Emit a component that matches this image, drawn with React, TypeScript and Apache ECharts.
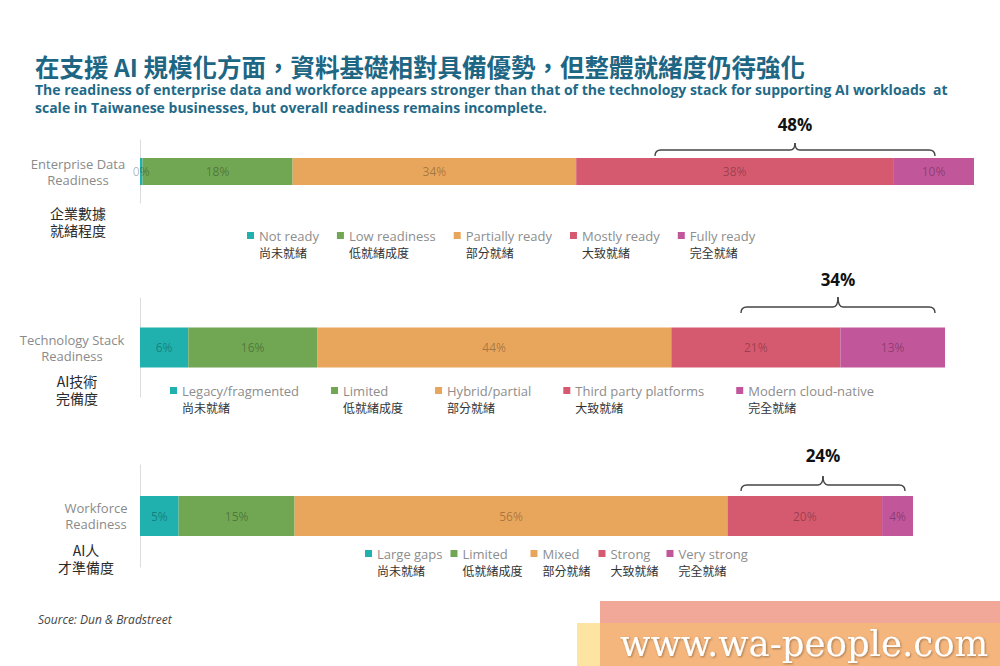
import React, { useEffect, useRef } from "react";
import * as echarts from "echarts";

const titleText = "在支援 AI 規模化方面，資料基礎相對具備優勢，但整體就緒度仍待強化";
const subtitleLines = [
  "The readiness of enterprise data and workforce appears stronger than that of the technology stack for supporting AI workloads  at",
  "scale in Taiwanese businesses, but overall readiness remains incomplete.",
];
const sourceText = "Source: Dun & Bradstreet";
const watermarkText = "www.wa-people.com";

const rowLabels = ["Enterprise Data\nReadiness", "Technology Stack\nReadiness", "Workforce\nReadiness"];
const rowLabelsZh = ["企業數據\n就緒程度", "AI技術\n完備度", "AI人\n才準備度"];

const enterpriseCats = ["Not ready", "Low readiness", "Partially ready", "Mostly ready", "Fully ready"];
const techCats = ["Legacy/fragmented", "Limited", "Hybrid/partial", "Third party platforms", "Modern cloud-native"];
const workforceCats = ["Large gaps", "Limited", "Mixed", "Strong", "Very strong"];
const levelsZh = ["尚未就緒", "低就緒成度", "部分就緒", "大致就緒", "完全就緒"];

const enterpriseValues = [0.3, 18, 34, 38, 10];
const techValues = [6, 16, 44, 21, 13];
const workforceValues = [5, 15, 56, 20, 4];

const colors = ["#20b0ad", "#71a653", "#e8a65c", "#d65a6f", "#c2569b"];

const FONT = "'Open Sans', Lato, sans-serif";
const CJK = "'Noto Sans CJK TC', 'Noto Sans CJK SC', sans-serif";

function buildOption() {
  const cats = [enterpriseCats, techCats, workforceCats];
  const vals = [enterpriseValues, techValues, workforceValues];
  const zhMap: Record<string, string> = {};
  cats.forEach((c) => c.forEach((n, i) => (zhMap[n] = levelsZh[i])));

  const grids = [
    { left: 140, right: 26, top: 140, height: 63 },
    { left: 140, right: 55, top: 298, height: 99 },
    { left: 140, right: 87, top: 465, height: 102 },
  ];
  const barWidths = [27, 40, 40];
  const labelMargins = [62, 68, 44];

  const series: any[] = [];
  cats.forEach((c, g) => {
    c.forEach((name, i) => {
      series.push({
        type: "bar",
        name,
        xAxisIndex: g,
        yAxisIndex: g,
        stack: "row" + g,
        barWidth: barWidths[g],
        data: [vals[g][i]],
        itemStyle: { color: colors[i] },
        label: {
          show: true,
          position: "inside",
          formatter: (p: any) => Math.round(p.value) + "%",
          fontSize: 12,
          color: "rgba(0,0,0,0.3)",
          fontFamily: FONT,
        },
        emphasis: { disabled: true },
      });
    });
  });

  const legendCommon = {
    orient: "horizontal",
    icon: "rect",
    itemWidth: 7,
    itemHeight: 7,
    padding: 0,
    selectedMode: false,
    formatter: (name: string) => `{en|${name}}\n{zh|${zhMap[name]}}`,
    textStyle: {
      padding: [17, 0, 0, 0],
      rich: {
        en: { fontSize: 13, color: "#8d8d8d", lineHeight: 17, fontFamily: FONT },
        zh: { fontSize: 12, color: "#333", lineHeight: 17, fontFamily: CJK },
      },
    },
  };

  const legendPos = [
    { left: 247, top: 229, itemGap: 18 },
    { left: 170, top: 384, itemGap: 32 },
    { left: 365, top: 547, itemGap: 8 },
  ];

  const zhLabelPos = [
    { x: 78, y: 221 },
    { x: 77, y: 389 },
    { x: 86, y: 558 },
  ];

  const braces = [
    { x1: 655, x2: 935, y: 150, tip: 7, ty: 124 },
    { x1: 741, x2: 935, y: 307, tip: 10, ty: 279 },
    { x1: 741, x2: 905, y: 485, tip: 9, ty: 455 },
  ];

  const graphics: any[] = [];
  zhLabelPos.forEach((p, g) => {
    graphics.push({
      type: "text",
      x: p.x,
      y: p.y,
      style: {
        text: rowLabelsZh[g],
        fill: "#2a2a2a",
        fontSize: 14,
        lineHeight: 17,
        fontFamily: CJK,
        align: "center",
        verticalAlign: "middle",
        textAlign: "center",
        textVerticalAlign: "middle",
      },
    });
  });

  const lineStyle = { stroke: "#444", lineWidth: 1.4, fill: null };
  braces.forEach((b, g) => {
    const mid = (b.x1 + b.x2) / 2;
    const y = b.y;
    const r = 6;
    const d = 6;
    const children: any[] = [
      { type: "bezierCurve", shape: { x1: b.x1, y1: y + d, x2: b.x1 + r, y2: y, cpx1: b.x1, cpy1: y }, style: lineStyle },
      { type: "line", shape: { x1: b.x1 + r, y1: y, x2: mid - 5, y2: y }, style: lineStyle },
      { type: "bezierCurve", shape: { x1: mid - 5, y1: y, x2: mid, y2: y - b.tip, cpx1: mid, cpy1: y }, style: lineStyle },
      { type: "bezierCurve", shape: { x1: mid, y1: y - b.tip, x2: mid + 5, y2: y, cpx1: mid, cpy1: y }, style: lineStyle },
      { type: "line", shape: { x1: mid + 5, y1: y, x2: b.x2 - r, y2: y }, style: lineStyle },
      { type: "bezierCurve", shape: { x1: b.x2 - r, y1: y, x2: b.x2, y2: y + d, cpx1: b.x2, cpy1: y }, style: lineStyle },
    ];
    graphics.push({ type: "group", children });
    const total = vals[g][3] + vals[g][4];
    graphics.push({
      type: "text",
      x: mid,
      y: b.ty,
      style: {
        text: Math.round(total) + "%",
        fill: "#111",
        fontSize: 17,
        fontWeight: "bold",
        fontFamily: FONT,
        align: "center",
        verticalAlign: "middle",
        textAlign: "center",
        textVerticalAlign: "middle",
      },
    });
  });

  // watermark
  graphics.push(
    { type: "rect", shape: { x: 600, y: 601, width: 400, height: 22 }, style: { fill: "#f2a898" } },
    { type: "rect", shape: { x: 577, y: 623, width: 23, height: 43 }, style: { fill: "#fde4a2" } },
    { type: "rect", shape: { x: 600, y: 623, width: 400, height: 43 }, style: { fill: "#f4b67d" } },
    {
      type: "text",
      x: 620,
      y: 643,
      style: {
        text: watermarkText,
        fill: "#ffffff",
        fontSize: 35.5,
        fontFamily: "'DejaVu Serif', serif",
        align: "left",
        verticalAlign: "middle",
        textAlign: "left",
        textVerticalAlign: "middle",
        textShadowColor: "rgba(0,0,0,0.35)",
        textShadowBlur: 2,
        textShadowOffsetX: 1,
        textShadowOffsetY: 1,
      },
    }
  );

  return {
    animation: false,
    backgroundColor: "#ffffff",
    title: [
      {
        text: titleText,
        left: 35,
        top: 55,
        padding: 0,
        textStyle: { fontSize: 24.5, fontWeight: "bold", color: "#1d6684", fontFamily: CJK, lineHeight: 22 },
      },
      {
        text: subtitleLines.join("\n"),
        left: 35,
        top: 80,
        padding: 0,
        textStyle: { fontSize: 14, fontWeight: "bold", color: "#1f6a88", fontFamily: FONT, lineHeight: 18 },
      },
      {
        text: sourceText,
        left: 38,
        top: 613,
        padding: 0,
        textStyle: { fontSize: 12, fontStyle: "italic", fontWeight: "normal", color: "#444", fontFamily: FONT },
      },
    ],
    grid: grids,
    xAxis: grids.map((_, g) => ({
      type: "value",
      gridIndex: g,
      min: 0,
      max: 100,
      show: false,
    })),
    yAxis: grids.map((_, g) => ({
      type: "category",
      gridIndex: g,
      data: [rowLabels[g]],
      axisLine: { show: true, lineStyle: { color: "#dcdcdc", width: 1 } },
      axisTick: { show: false },
      splitLine: { show: false },
      axisLabel: {
        align: "center",
        margin: labelMargins[g],
        color: "#8a8a8a",
        fontSize: 13,
        lineHeight: 16,
        fontFamily: FONT,
      },
    })),
    legend: legendPos.map((p, g) => ({ ...legendCommon, ...p, data: cats[g] })),
    series,
    graphic: graphics,
  };
}

export default function App() {
  const ref = useRef<HTMLDivElement>(null);
  useEffect(() => {
    if (!ref.current) return;
    const chart = echarts.init(ref.current, null, { renderer: "svg" });
    chart.setOption(buildOption() as any);
    return () => chart.dispose();
  }, []);
  return (
    <div
      ref={ref}
      style={{ position: "absolute", left: 0, top: 0, width: 1000, height: 666, background: "#fff" }}
    />
  );
}
